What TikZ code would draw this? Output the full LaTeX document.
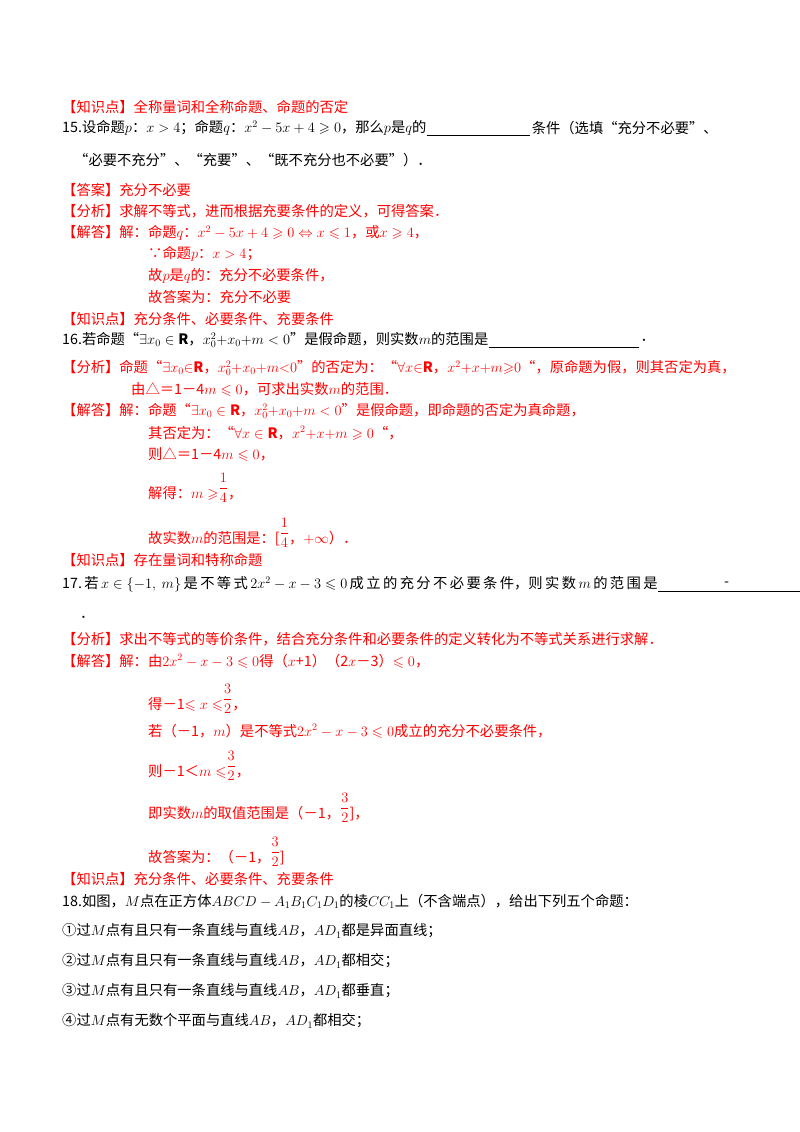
\documentclass[tikz,border=0pt]{standalone}
\usepackage{amsmath,amssymb}
\usepackage{fontspec}
\setmainfont{Noto Sans CJK SC}
\newcommand\fup[2]{\raisebox{0.4em}{$\dfrac{#1}{#2}$}}
\begin{document}
\begin{tikzpicture}[x=1pt,y=-1pt,
  t/.style={anchor=west,inner sep=0pt,font=\fontsize{14.3}{16}\selectfont},
  r/.style={t,text=red},
  b/.style={t,text=black},
  rb/.style={r,anchor=base west},
  blank/.style={black,line width=0.8pt}]
\useasboundingbox[fill=white] (0,0) rectangle (800,1132);
\node[r] (k1) at (62,107) {【知识点】全称量词和全称命题、命题的否定};
\node[b] (q15) at (62,128) {15.设命题$p$：$x>4$；命题$q$：$x^2-5x+4\geqslant0$，那么$p$是$q$的};
\coordinate (u1) at ([yshift=-7pt]q15.east);
\coordinate (u2) at ([xshift=103pt]u1);
\draw[blank] (u1) -- (u2);
\node[b] (q15b) at ([xshift=2pt,yshift=7pt]u2) {条件（选填“充分不必要”、};
\node[b] (q15c) at (74,160) {“必要不充分”、“充要”、“既不充分也不必要”）．};
\node[r] (a15) at (62,190) {【答案】充分不必要};
\node[r] (f15) at (62,211) {【分析】求解不等式，进而根据充要条件的定义，可得答案．};
\node[r] (j15) at (62,233) {【解答】解：命题$q$：$x^2-5x+4\geqslant0\Leftrightarrow x\leqslant1$，或$x\geqslant4$，};
\node[r] (j15b) at (148,254) {∵命题$p$：$x>4$；};
\node[r] (j15c) at (148,276) {故$p$是$q$的：充分不必要条件，};
\node[r] (j15d) at (148,297) {故答案为：充分不必要};
\node[r] (k2) at (62,319) {【知识点】充分条件、必要条件、充要条件};
\node[b] (q16) at (62,340) {16.若命题“$\exists x_0\in\mathbf{R}$，$x_0^{2}{+}x_0{+}m<0$”是假命题，则实数$m$的范围是};
\coordinate (v1) at ([yshift=-7pt]q16.east);
\coordinate (v2) at ([xshift=150pt]v1);
\draw[blank] (v1) -- (v2);
\node[b] (q16b) at ([xshift=2pt,yshift=7pt]v2) {．};
\node[r] (f16) at (62,368) {【分析】命题“$\exists x_0{\in}\mathbf{R}$，$x_0^2{+}x_0{+}m{<}0$”的否定为：“$\forall x{\in}\mathbf{R}$，$x^2{+}x{+}m{\geqslant}0$“，原命题为假，则其否定为真，};
\node[r] (f16b) at (131,389) {由△＝1－4$m\leqslant0$，可求出实数$m$的范围．};
\node[r] (j16) at (62,411) {【解答】解：命题“$\exists x_0\in\mathbf{R}$，$x_0^2{+}x_0{+}m<0$”是假命题，即命题的否定为真命题，};
\node[r] (j16b) at (148,433) {其否定为：“$\forall x\in\mathbf{R}$，$x^2{+}x{+}m\geqslant0$“，};
\node[r] (j16c) at (148,455) {则△＝1－4$m\leqslant0$，};
\node[rb] (j16d) at (148,498) {解得：$m\geqslant$\fup14，};
\node[rb] (j16e) at (148,543) {故实数$m$的范围是：[\fup14，$+\infty$）．};
\node[r] (k3) at (62,560) {【知识点】存在量词和特称命题};
\node[b] (q17) at (62,584) {17.\,若\,$x\in\{-1,\ m\}$\,是\,不\,等\,式\,$2x^2-x-3\leqslant0$\,成\,立\,的\,充\,分\,不\,必\,要\,条\,件，则\,实\,数\,$m$\,的\,范\,围\,是};
\coordinate (w1) at ([yshift=-7pt]q17.east);
\draw[blank] (w1) -- (800,591);
\node[b] (dash) at (724,584) {-};
\node[b] (q17b) at (80,617) {．};
\node[r] (f17) at (62,639) {【分析】求出不等式的等价条件，结合充分条件和必要条件的定义转化为不等式关系进行求解．};
\node[r] (j17) at (62,661) {【解答】解：由$2x^2-x-3\leqslant0$得（$x$+1）（2$x$－3）$\leqslant0$，};
\node[rb] (j17b) at (148,709) {得－1$\leqslant x\leqslant$\fup32，};
\node[r] (j17c) at (148,731) {若（－1，$m$）是不等式$2x^2-x-3\leqslant0$成立的充分不必要条件，};
\node[rb] (j17d) at (148,776) {则－1＜$m\leqslant$\fup32，};
\node[rb] (j17e) at (148,818) {即实数$m$的取值范围是（－1，\fup32]，};
\node[rb] (j17f) at (148,862) {故答案为：（－1，\fup32]};
\node[r] (k4) at (62,879) {【知识点】充分条件、必要条件、充要条件};
\node[b] (q18) at (62,901) {18.如图，$M$点在正方体$ABCD-A_1B_1C_1D_1$的棱$CC_1$上（不含端点），给出下列五个命题：};
\node[b] (s1) at (62,931) {①过$M$点有且只有一条直线与直线$AB$，$AD_1$都是异面直线；};
\node[b] (s2) at (62,961) {②过$M$点有且只有一条直线与直线$AB$，$AD_1$都相交；};
\node[b] (s3) at (62,991) {③过$M$点有且只有一条直线与直线$AB$，$AD_1$都垂直；};
\node[b] (s4) at (62,1021) {④过$M$点有无数个平面与直线$AB$，$AD_1$都相交；};
\end{tikzpicture}
\end{document}
